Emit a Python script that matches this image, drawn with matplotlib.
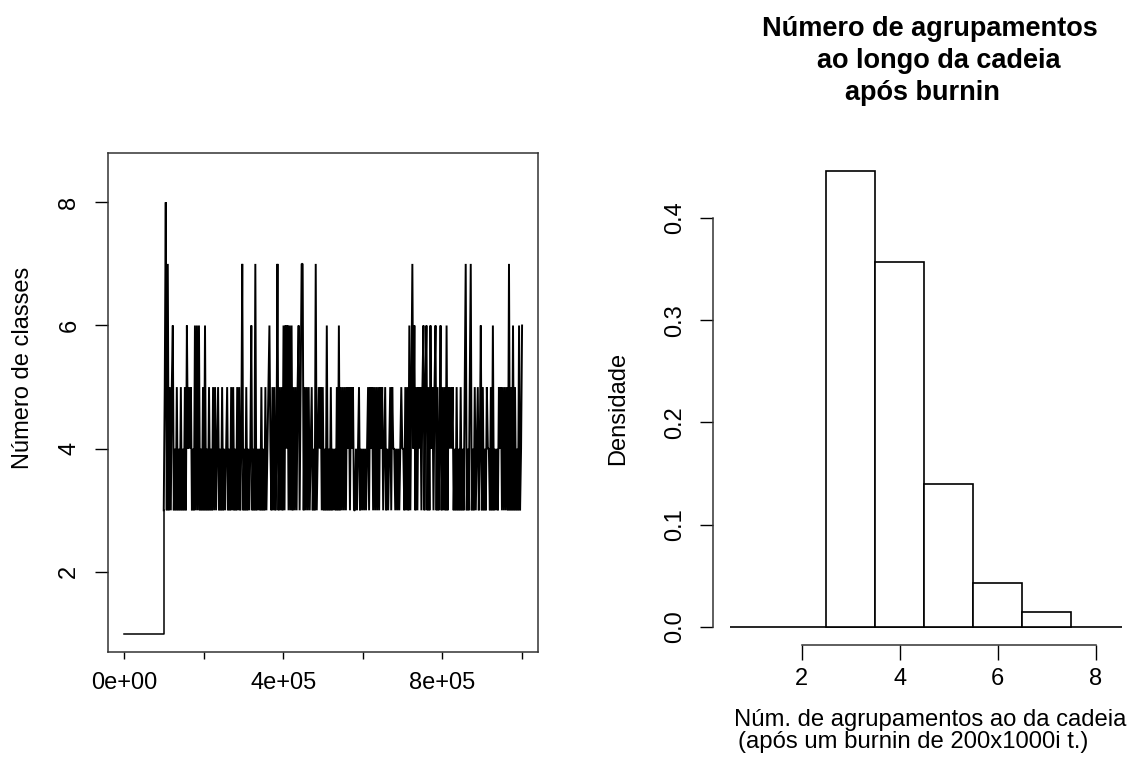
import numpy as np
import matplotlib
matplotlib.use("Agg")
import matplotlib.pyplot as plt

plt.rcParams['font.family'] = ['Liberation Sans', 'DejaVu Sans']

# cadeia (amostrada) : 1 classe no inicio, depois oscila entre 3 e 8
burnin_iter = [1, 100000]
burnin_vals = [1, 1]
trace_str = ("3583735356" "3435343534" "3536454534" "3636363435" "3634353435"
             "3534534353" "4345343535" "3435353473" "4353434634" "3734343534"
             "3534564353" "5347353536" "3646363635" "3535635773" "5353534534"
             "3734545353" "4363435343" "4353635353" "5354535453" "3434534343"
             "4345354535" "3535354534" "5343453544" "3434345443" "5353635746"
             "3535453563" "5635364535" "6353463535" "3635454534" "3534353435"
             "7343573435" "3453463534" "3544353634" "3435453535" "3537353635"
             "3436346")
trace_vals = [int(c) for c in trace_str]

# histograma do numero de agrupamentos
hist_classes = [3, 4, 5, 6, 7]
hist_density = [0.446, 0.357, 0.140, 0.043, 0.014]

W, H = 1132, 763


def fx(px):
    return px / W


def fy(py):
    return 1 - py / H


def style_ticklabels(ax, axis, rot):
    labels = ax.get_yticklabels() if axis == 'y' else ax.get_xticklabels()
    for lab in labels:
        lab.set_rotation(rot)
        if axis == 'y':
            lab.set_va('center')
            lab.set_ha('right')


def plot_trace(fig):
    ax = fig.add_axes([fx(108), fy(652), fx(538) - fx(108), fy(153) - fy(652)])
    n = len(trace_vals)
    iters = np.linspace(100000, 1000000, n)
    # burnin: linha fina ate a primeira mudanca
    ax.plot(burnin_iter + [iters[0]], burnin_vals + [trace_vals[0]],
            color='black', lw=1.1)
    ax.plot(iters, trace_vals, color='black', lw=1.4, solid_joinstyle='bevel')
    ax.set_xlim(-40000, 1040000)
    ax.set_ylim(0.7, 8.8)
    ax.set_xticks([0, 200000, 400000, 600000, 800000, 1000000])
    ax.set_xticklabels(['0e+00', '', '4e+05', '', '8e+05', ''])
    ax.set_yticks([2, 4, 6, 8])
    ax.set_yticklabels(['2', '4', '6', '8'])
    ax.tick_params(axis='x', length=5, width=1, pad=9.5, labelsize=17)
    ax.tick_params(axis='y', length=9.4, width=1, pad=10.5, labelsize=17)
    style_ticklabels(ax, 'y', 90)
    for sp in ax.spines.values():
        sp.set_linewidth(1.1)
        sp.set_color('#333333')
    fig.text(fx(23), fy(368), 'Número de classes', rotation=90,
             ha='center', va='center', fontsize=17)


def plot_hist(fig):
    ax = fig.add_axes([fx(713), fy(645), 1 - fx(713), fy(150.5) - fy(645)])
    ax.bar(hist_classes, hist_density, width=1.0, facecolor='white',
           edgecolor='black', linewidth=1.2, zorder=3)
    ax.hlines(0, 0.54, 8.53, color='black', lw=1.2, zorder=2)
    ax.set_xlim(0.19, 8.741)
    ax.set_ylim(-0.0179, 0.466)
    ax.spines['top'].set_visible(False)
    ax.spines['right'].set_visible(False)
    ax.spines['left'].set_bounds(0, 0.4)
    ax.spines['bottom'].set_bounds(2, 8)
    for sp in ('left', 'bottom'):
        ax.spines[sp].set_linewidth(1.1)
        ax.spines[sp].set_color('#333333')
    ax.set_xticks([2, 4, 6, 8])
    ax.set_yticks([0.0, 0.1, 0.2, 0.3, 0.4])
    ax.set_yticklabels(['0.0', '0.1', '0.2', '0.3', '0.4'])
    ax.tick_params(axis='x', length=10.8, width=1, pad=6, labelsize=17)
    ax.tick_params(axis='y', length=9.4, width=1, pad=9.6, labelsize=17)
    style_ticklabels(ax, 'y', 90)
    ax.patch.set_alpha(0)

    fig.text(fx(618), fy(408), 'Densidade', rotation=90,
             ha='center', va='center', fontsize=17)
    fig.text(fx(734), fy(726), 'Núm. de agrupamentos ao da cadeia',
             ha='left', va='baseline', fontsize=17.2)
    fig.text(fx(738), fy(748), '(após um burnin de 200x1000i t.)',
             ha='left', va='baseline', fontsize=17.2)

    # titulo em tres linhas
    fig.text(fx(762), fy(36), 'Número de agrupamentos', ha='left',
             va='baseline', fontsize=19.5, fontweight='bold')
    fig.text(fx(817), fy(68), 'ao longo da cadeia', ha='left',
             va='baseline', fontsize=19.5, fontweight='bold')
    fig.text(fx(845), fy(100), 'após burnin', ha='left',
             va='baseline', fontsize=19.5, fontweight='bold')


fig = plt.figure(figsize=(W / 100, H / 100), dpi=100)
plot_trace(fig)
plot_hist(fig)
fig.savefig('out.png', dpi=100)
